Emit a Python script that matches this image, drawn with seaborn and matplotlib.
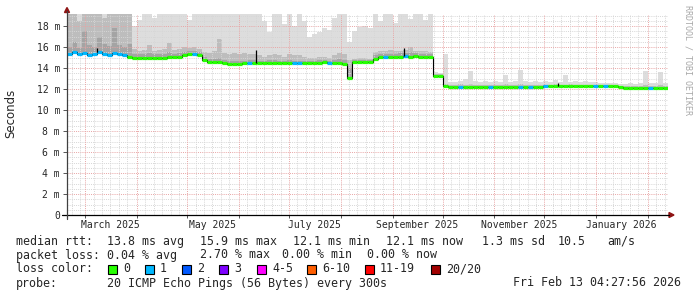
import numpy as np
import pandas as pd
import matplotlib
matplotlib.use("Agg")
import matplotlib.pyplot as plt
from matplotlib.patches import Rectangle, Polygon
from matplotlib.lines import Line2D
import seaborn as sns

# ---------------- data ----------------
START = pd.Timestamp("2025-02-18")
END = pd.Timestamp("2026-02-13")
BIN_DAYS = 3

median_ms = [
    15.3, 15.5, 15.3, 15.4, 15.2, 15.3, 15.5, 15.3, 15.2, 15.4, 15.3, 15.2, 15.1,
    15.0, 15.0, 15.0, 15.0, 15.0, 15.0, 15.0, 15.05, 15.05, 15.1, 15.2,
    15.3, 15.3, 15.2, 14.8, 14.6, 14.6, 14.6, 14.5, 14.4, 14.4, 14.4, 14.5,
    14.45, 14.5, 14.45, 14.45, 14.5, 14.45, 14.45, 14.45, 14.5, 14.45, 14.45, 14.5,
    14.5, 14.45, 14.5, 14.55, 14.5, 14.5, 14.5, 14.4,
    13.1,
    14.55, 14.6, 14.6, 14.6,
    14.9, 15.05, 15.1, 15.1, 15.05, 15.1, 15.15, 15.1, 15.15, 15.1, 15.1, 15.05,
    13.2, 13.2,
    12.3, 12.2, 12.15, 12.15, 12.15, 12.15, 12.15, 12.15, 12.15, 12.15,
    12.2, 12.2, 12.2, 12.15, 12.15, 12.2, 12.2, 12.2, 12.2, 12.2,
    12.25, 12.25, 12.25, 12.25, 12.25, 12.25, 12.25, 12.25, 12.25, 12.25,
    12.25, 12.25, 12.25, 12.25, 12.25, 12.2,
    12.1, 12.1, 12.1, 12.1, 12.1, 12.1, 12.1, 12.1, 12.1,
]

loss = [
    1, 1, 1, 1, 1, 1, 1, 1, 1, 1, 1, 1, 0,
    0, 0, 0, 0, 0, 0, 0, 0, 0, 0, 0,
    0, 1, 0, 0, 0, 0, 0, 0, 0, 0, 0, 0,
    1, 0, 0, 0, 0, 0, 0, 0, 0, 1, 1, 0,
    0, 0, 0, 0, 1, 0, 0, 0,
    0,
    0, 0, 0, 0,
    0, 0, 1, 0, 0, 0, 1, 0, 0, 0, 0, 0,
    0, 0,
    0, 0, 0, 1, 0, 0, 0, 0, 0, 1,
    0, 0, 0, 0, 0, 1, 0, 1, 0, 0,
    1, 0, 0, 0, 0, 0, 0, 0, 0, 0,
    1, 0, 1, 0, 0, 0,
    0, 0, 0, 0, 0, 1, 0, 0, 0,
]

smoke_hi = [
    19.3, 19.3, 19.3, 19.3, 19.3, 19.3, 19.3, 19.3, 19.3, 19.3, 19.3, 19.3, 19.3,
    18.0, 18.6, 19.3, 19.3, 18.8, 19.3, 19.3, 19.3, 19.3, 19.3, 19.3,
    18.6, 19.3, 19.3, 19.3, 19.3, 19.3, 19.3, 19.3, 19.3, 19.3, 19.3, 19.3,
    19.3, 19.3, 19.3, 18.5, 17.4, 19.3, 19.3, 18.2, 19.3, 18.0, 19.3, 18.5,
    17.0, 17.2, 17.4, 17.8, 17.6, 18.8, 19.3, 19.3,
    16.5,
    17.5, 17.9, 18.0, 17.8,
    19.3, 18.5, 19.3, 19.3, 18.3, 19.3, 19.3, 18.7, 19.3, 19.3, 18.6, 19.3,
    13.6, 13.5,
    15.3, 12.7, 12.7, 12.8, 13.0, 13.7, 12.8, 12.7, 12.8, 12.7,
    12.8, 12.7, 13.3, 12.7, 12.8, 13.8, 12.8, 12.7, 12.8, 12.7,
    12.8, 12.7, 12.9, 12.7, 13.3, 12.7, 12.8, 12.7, 12.8, 12.7,
    12.7, 12.6, 12.6, 12.6, 12.6, 12.5,
    12.5, 12.6, 12.5, 12.6, 13.7, 12.6, 12.6, 13.6, 12.6,
]

smoke_mid = [
    19.3, 19.3, 18.5, 19.3, 19.3, 19.3, 19.3, 18.8, 19.3, 19.3, 19.3, 19.3, 19.3,
    15.8, 15.6, 15.7, 16.2, 15.6, 15.7, 15.8, 16.4, 15.7, 15.8, 16.0,
    15.9, 16.0, 15.8, 15.5, 15.4, 15.6, 16.8, 15.4, 15.3, 15.4, 15.3, 15.4,
    15.3, 15.3, 15.2, 15.1, 15.2, 15.3, 15.2, 15.1, 15.3, 15.2, 15.2, 15.1,
    15.0, 15.0, 15.1, 15.1, 15.0, 15.2, 15.4, 15.3,
    14.8,
    14.9, 15.0, 15.0, 14.9,
    15.5, 15.6, 15.6, 15.7, 15.6, 15.6, 15.7, 16.0, 15.6, 15.6, 15.6, 15.5,
    13.4, 13.4,
    12.5, 12.4, 12.4, 12.5, 12.4, 12.5, 12.4, 12.4, 12.4, 12.4,
    12.4, 12.4, 12.5, 12.4, 12.4, 12.5, 12.4, 12.4, 12.4, 12.4,
    12.4, 12.4, 12.5, 12.4, 12.4, 12.5, 12.4, 12.4, 12.4, 12.4,
    12.4, 12.4, 12.4, 12.4, 12.4, 12.3,
    12.3, 12.3, 12.3, 12.3, 12.4, 12.3, 12.3, 12.4, 12.3,
]

smoke_dark = [
    16.0, 16.5, 15.9, 17.5, 16.2, 16.0, 17.0, 16.3, 16.1, 17.8, 16.2, 16.0, 16.3,
    15.3, 15.3, 15.3, 15.4, 15.3, 15.3, 15.3, 15.5, 15.3, 15.4, 15.5,
    15.6, 15.6, 15.5, 15.1, 14.9, 14.9, 15.0, 14.8, 14.7, 14.7, 14.7, 14.7,
    14.8, 14.8, 14.7, 14.7, 14.8, 14.8, 14.7, 14.7, 14.8, 14.7, 14.7, 14.7,
    14.7, 14.7, 14.8, 14.8, 14.7, 14.8, 14.9, 14.8,
    14.0,
    14.8, 14.8, 14.8, 14.8,
    15.2, 15.3, 15.3, 15.3, 15.3, 15.4, 15.4, 15.5, 15.4, 15.3, 15.3, 15.3,
    13.3, 13.3,
    12.4, 12.3, 12.3, 12.3, 12.3, 12.3, 12.3, 12.3, 12.3, 12.3,
    12.3, 12.3, 12.3, 12.3, 12.3, 12.3, 12.3, 12.3, 12.3, 12.3,
    12.35, 12.35, 12.35, 12.35, 12.35, 12.35, 12.35, 12.35, 12.35, 12.35,
    12.35, 12.35, 12.35, 12.35, 12.35, 12.3,
    12.2, 12.2, 12.2, 12.2, 12.2, 12.2, 12.2, 12.2, 12.2,
]

spike_dates = ["2025-03-08", "2025-06-11", "2025-09-08", "2025-12-09"]
spike_vals = [15.9, 15.7, 15.9, 12.6]

loss_labels = ["0", "1", "2", "3", "4-5", "6-10", "11-19", "20/20"]
loss_colors = ["#26ff00", "#00b8ff", "#0059ff", "#7e00ff", "#ff00ff",
               "#ff5e00", "#ff0000", "#a10000"]

ytick_vals = [0, 2, 4, 6, 8, 10, 12, 14, 16, 18]
ytick_labels = ["0", "2 m", "4 m", "6 m", "8 m", "10 m", "12 m", "14 m", "16 m", "18 m"]
xlabel_months = ["2025-03-01", "2025-05-01", "2025-07-01", "2025-09-01",
                 "2025-11-01", "2026-01-01"]
xlabel_texts = ["March 2025", "May 2025", "July 2025", "September 2025",
                "November 2025", "January 2026"]

row1 = [("median rtt:", 16), ("13.8 ms avg", 107), ("15.9 ms max", 200),
        ("12.1 ms min", 293), ("12.1 ms now", 386), ("1.3 ms sd", 482),
        ("10.5", 558), ("am/s", 607)]
row2 = [("packet loss:", 16), ("0.04 % avg", 107), ("2.70 % max", 200),
        ("0.00 % min", 282), ("0.00 % now", 367)]
row4 = [("probe:", 16), ("20 ICMP Echo Pings (56 Bytes) every 300s", 107),
        ("Fri Feb 13 04:27:56 2026", 513)]
legend_sq_x = [108, 145, 182, 219, 257, 307, 365, 431]

n = len(median_ms)
assert n == len(loss) == len(smoke_hi) == len(smoke_mid) == len(smoke_dark)

# ---------------- style ----------------
sns.set_style("white")
plt.rcParams["font.family"] = ["DejaVu Sans Mono", "DejaVu Sans"]

W, H = 697, 297
def fx(x): return x / W
def fy(y): return 1 - y / H
def dayof(d): return (pd.Timestamp(d) - START).total_seconds() / 86400.0

fig = plt.figure(figsize=(W / 100, H / 100), dpi=100)
fig.patch.set_facecolor("white")
ax = fig.add_axes([fx(67), fy(215), (668 - 67) / W, (215 - 14) / H])
ax.set_facecolor("white")
span = dayof(END)
ax.set_xlim(0, span)
ax.set_ylim(0, 19.15)

edges = np.arange(n + 1) * BIN_DAYS
med_s = np.array(median_ms + [median_ms[-1]])
hi_s = np.array(smoke_hi + [smoke_hi[-1]])
mid_s = np.array(smoke_mid + [smoke_mid[-1]])
dark_s = np.array(smoke_dark + [smoke_dark[-1]])

ax.fill_between(edges, med_s, hi_s, step="post", color="#dddddd", lw=0, zorder=1)
ax.fill_between(edges, med_s, mid_s, step="post", color="#bdbdbd", lw=0, zorder=2)
ax.fill_between(edges, med_s, dark_s, step="post", color="#a4a4a4", lw=0, zorder=3)

# grid
gstyle = (0, (1, 1.2))
major_c = "#e8a4a4"
minor_c = "#d6d6d6"
for yv in np.arange(0.5, 19.2, 0.5):
    if abs(yv / 2 - round(yv / 2)) < 1e-6:
        ax.axhline(yv, color=major_c, lw=0.7, ls=gstyle, zorder=4)
    else:
        ax.axhline(yv, color=minor_c, lw=0.7, ls=gstyle, zorder=4)
month_starts = pd.date_range("2025-03-01", "2026-02-01", freq="MS")
minor_days = []
for m in pd.date_range("2025-02-01", "2026-02-01", freq="MS"):
    for dd in [6, 11, 16, 21, 26]:
        t = m + pd.Timedelta(days=dd - 1)
        if START < t < END:
            minor_days.append(dayof(t))
for d in minor_days:
    ax.axvline(d, color=minor_c, lw=0.7, ls=gstyle, zorder=4)
for m in month_starts:
    ax.axvline(dayof(m), color=major_c, lw=0.7, ls=gstyle, zorder=4)

# median line
df = pd.DataFrame({"day": edges, "median": med_s})
sns.lineplot(data=df, x="day", y="median", ax=ax, color="black", lw=0.8,
             drawstyle="steps-post", zorder=5, legend=False)
ax.hlines(median_ms, edges[:-1], edges[1:],
          colors=[loss_colors[l] for l in loss], lw=2.3, zorder=6)
sd = [dayof(d) for d in spike_dates]
base = [median_ms[int(d // BIN_DAYS)] for d in sd]
ax.vlines(sd, base, spike_vals, color="black", lw=0.9, zorder=7)

# axes / ticks
for s in ax.spines.values():
    s.set_visible(False)
ax.set_xlabel("")
ax.set_ylabel("")
ax.set_yticks(ytick_vals)
ax.set_yticklabels(ytick_labels, fontsize=7, family="DejaVu Sans Mono")
ax.tick_params(axis="y", length=3, width=0.7, color="#555555", pad=2, left=True)
ax.set_xticks([dayof(m) for m in month_starts])
ax.set_xticklabels([""] * len(month_starts))
ax.tick_params(axis="x", which="major", length=2, width=0.7, color="#555555", bottom=True)
ax.set_xticks([dayof(m) + 15 for m in xlabel_months], minor=True)
ax.set_xticklabels(xlabel_texts, minor=True, fontsize=7, family="DejaVu Sans Mono")
ax.tick_params(axis="x", which="minor", length=0, pad=3.5)

# axis lines and arrows
fig.add_artist(Line2D([fx(62), fx(669)], [fy(215), fy(215)], color="black", lw=0.9))
fig.add_artist(Line2D([fx(67), fx(67)], [fy(219), fy(11)], color="#404040", lw=0.9))
arrow_c = "#8e1414"
fig.add_artist(Polygon([(fx(67), fy(7.5)), (fx(64.5), fy(12.5)), (fx(69.5), fy(12.5))],
                       closed=True, color=arrow_c, transform=fig.transFigure))
fig.add_artist(Polygon([(fx(674), fy(215)), (fx(669), fy(212.5)), (fx(669), fy(217.5))],
                       closed=True, color=arrow_c, transform=fig.transFigure))

# side texts
fig.text(fx(11), fy(113), "Seconds", rotation=90, ha="center", va="center",
         fontsize=8.5, family="DejaVu Sans")
fig.text(fx(688), fy(5), "RRDTOOL / TOBI OETIKER", rotation=270, ha="center",
         va="top", fontsize=6.0, color="#a8a8a8", family="DejaVu Sans Mono")

# legend text
FS = 8.4
for txt, x in row1:
    fig.text(fx(x), fy(241.5), txt, ha="left", va="center", fontsize=FS)
for txt, x in row2:
    fig.text(fx(x), fy(255), txt, ha="left", va="center", fontsize=FS)
fig.text(fx(16), fy(269), "loss color:", ha="left", va="center", fontsize=FS)
for lab, col, x in zip(loss_labels, loss_colors, legend_sq_x):
    fig.add_artist(Rectangle((fx(x), fy(273.5)), 9 / W, 9 / H, facecolor=col,
                             edgecolor="black", lw=0.8, transform=fig.transFigure))
    fig.text(fx(x + 15), fy(269), lab, ha="left", va="center", fontsize=FS)
for txt, x in row4:
    fig.text(fx(x), fy(283), txt, ha="left", va="center", fontsize=FS)

fig.savefig("out.png", dpi=100, facecolor="white")
